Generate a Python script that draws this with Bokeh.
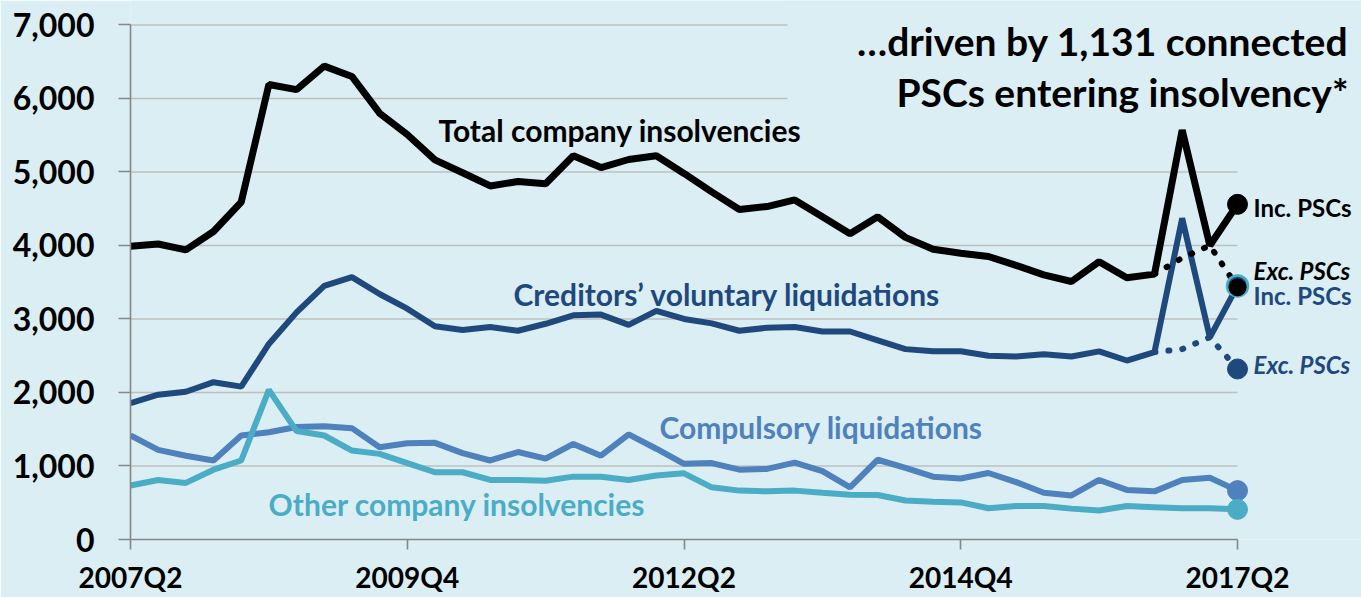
from bokeh.plotting import figure
from bokeh.models import Label, FixedTicker, BoxAnnotation, NumeralTickFormatter
from bokeh.embed import file_html
from bokeh.resources import INLINE

# ---------------- data ----------------
quarter_idx = list(range(41))  # 2007Q2 ... 2017Q2
tick_positions = [0, 10, 20, 30, 40]
tick_labels = ["2007Q2", "2009Q4", "2012Q2", "2014Q4", "2017Q2"]
y_ticks = [0, 1000, 2000, 3000, 4000, 5000, 6000, 7000]

total = [3990, 4020, 3940, 4190, 4590, 6190, 6120, 6440, 6300, 5800,
         5510, 5165, 4990, 4810, 4870, 4840, 5220, 5060, 5170, 5220,
         4980, 4730, 4490, 4530, 4620, 4390, 4160, 4390, 4110, 3950,
         3895, 3850, 3730, 3600, 3510, 3780, 3560, 3610, 5570, 4000, 4560]
cvl = [1855, 1970, 2010, 2140, 2080, 2660, 3090, 3450, 3570, 3340,
       3140, 2900, 2850, 2890, 2840, 2935, 3050, 3060, 2920, 3110,
       3000, 2940, 2840, 2880, 2890, 2830, 2830, 2710, 2590, 2560,
       2560, 2500, 2490, 2520, 2490, 2560, 2435, 2550, 4370, 2750, 3450]
compulsory = [1415, 1220, 1140, 1075, 1415, 1460, 1530, 1540, 1515, 1255,
              1310, 1315, 1175, 1075, 1190, 1100, 1300, 1140, 1430, 1235,
              1030, 1040, 950, 960, 1045, 930, 710, 1085, 975, 855,
              830, 905, 780, 635, 600, 810, 675, 655, 810, 840, 665]
other = [735, 810, 770, 950, 1075, 2035, 1475, 1415, 1210, 1165,
         1040, 915, 915, 810, 810, 800, 855, 855, 810, 870,
         900, 710, 665, 655, 665, 635, 610, 605, 530, 515,
         505, 425, 455, 455, 420, 395, 455, 440, 425, 425, 410]
exc_idx = [37, 38, 39, 40]
total_exc = [3610, 3830, 4000, 3430]
cvl_exc = [2550, 2590, 2750, 2320]

# ---------------- style ----------------
BG = "#DAEEF3"
DARK = "#1F497D"
MID = "#4F81BD"
TEAL = "#4BACC6"
GRID = "#BFBFBF"
AXIS = "#868686"
FONT = "Lato"

p = figure(width=1361, height=597, output_backend="svg", toolbar_location=None,
           x_range=(0, 44.48), y_range=(0, 7333),
           min_border_left=130, min_border_right=0, min_border_top=0,
           min_border_bottom=58)
p.background_fill_color = BG
p.border_fill_color = BG
p.outline_line_color = None
p.xgrid.visible = False
p.ygrid.visible = False

# gridlines (from tick values)
p.segment(x0=[tick_positions[0]] * 7, x1=[tick_positions[-1]] * 7,
          y0=y_ticks[1:], y1=y_ticks[1:], line_color=GRID, line_width=1.6)

# axes
xa = p.xaxis[0]
xa.ticker = FixedTicker(ticks=tick_positions)
xa.major_label_overrides = {t: l for t, l in zip(tick_positions, tick_labels)}
xa.bounds = (tick_positions[0], tick_positions[-1])
xa.axis_line_color = AXIS
xa.axis_line_width = 1.6
xa.major_tick_line_color = AXIS
xa.major_tick_line_width = 1.6
xa.major_tick_out = 10
xa.major_tick_in = 0
xa.minor_tick_line_color = None
xa.major_label_text_font = FONT
xa.major_label_text_font_style = "bold"
xa.major_label_text_font_size = "28px"
xa.major_label_text_color = "black"
xa.major_label_standoff = 10

ya = p.yaxis[0]
ya.ticker = FixedTicker(ticks=y_ticks)
ya.formatter = NumeralTickFormatter(format="0,0")
ya.bounds = (y_ticks[0], y_ticks[-1])
ya.axis_line_color = AXIS
ya.axis_line_width = 1.6
ya.major_tick_line_color = AXIS
ya.major_tick_line_width = 1.6
ya.major_tick_out = 12
ya.major_tick_in = 0
ya.minor_tick_line_color = None
ya.major_label_text_font = FONT
ya.major_label_text_font_style = "bold"
ya.major_label_text_font_size = "32px"
ya.major_label_text_color = "black"
ya.major_label_standoff = 24

# series lines
p.line(quarter_idx, cvl, line_color=DARK, line_width=6)
p.line(quarter_idx, compulsory, line_color=MID, line_width=6)
p.line(quarter_idx, other, line_color=TEAL, line_width=6)
p.line(quarter_idx, total, line_color="black", line_width=7)

# excluding-PSC dotted lines
p.line(exc_idx, cvl_exc, line_color=DARK, line_width=6, line_dash="1 13", line_cap="round")
p.line(exc_idx, total_exc, line_color="black", line_width=6, line_dash="1 13", line_cap="round")

# end markers
last = quarter_idx[-1]
p.scatter([last], [compulsory[-1]], size=20, fill_color=MID, line_color=MID)
p.scatter([last], [other[-1]], size=20, fill_color=TEAL, line_color=TEAL)
p.scatter([last], [cvl[-1]], size=21, fill_color=DARK, line_color=TEAL, line_width=2.5)
p.scatter([last], [total_exc[-1]], size=17, fill_color="black", line_color="black")
p.scatter([exc_idx[-1]], [cvl_exc[-1]], size=20, fill_color=DARK, line_color=DARK)
p.scatter([last], [total[-1]], size=20, fill_color="black", line_color="black")

# title area covering top gridlines
p.add_layout(BoxAnnotation(left=23.74, right=44.48, bottom=5800, top=7333,
                           fill_color=BG, fill_alpha=1, line_alpha=0))

def lab(x, y, text, color="black", size="30px", style="bold", align="left"):
    p.add_layout(Label(x=x, y=y, text=text, text_color=color, text_font=FONT,
                       text_font_style=style, text_font_size=size,
                       text_align=align, text_baseline="alphabetic"))

lab(44.01, 6786, "…driven by 1,131 connected", size="39px", align="right")
lab(44.01, 6093, "PSCs entering insolvency*", size="39px", align="right")

lab(11.13, 5574, "Total company insolvencies")
lab(13.84, 3339, "Creditors’ voluntary liquidations", color=DARK)
lab(19.11, 1525, "Compulsory liquidations", color=MID)
lab(4.99, 482, "Other company insolvencies", color=TEAL)

lab(40.58, 4522, "Inc. PSCs", size="24px")
lab(40.58, 3661, "Exc. PSCs", size="24px", style="bold italic")
lab(40.58, 3317, "Inc. PSCs", color=DARK, size="24px")
lab(40.58, 2378, "Exc. PSCs", color=DARK, size="24px", style="bold italic")

open("out.html", "w").write(file_html(p, INLINE))
